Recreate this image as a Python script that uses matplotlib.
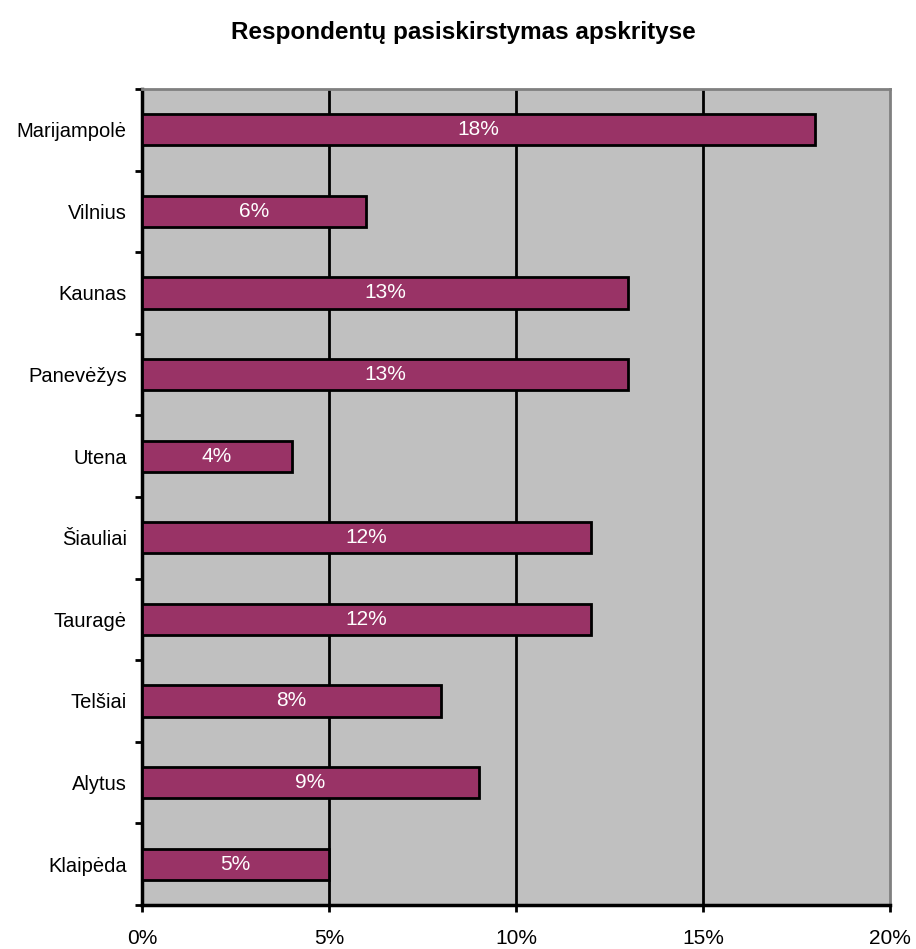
import matplotlib
matplotlib.use("Agg")
import matplotlib.pyplot as plt
import numpy as np

categories = ["Marijampolė", "Vilnius", "Kaunas", "Panevėžys", "Utena",
              "Šiauliai", "Tauragė", "Telšiai", "Alytus", "Klaipėda"]
values = [18, 6, 13, 13, 4, 12, 12, 8, 9, 5]
xticks = [0, 5, 10, 15, 20]
xticklabels = ["0%", "5%", "10%", "15%", "20%"]
title = "Respondentų pasiskirstymas apskrityse"

plt.rcParams['font.family'] = ['Liberation Sans', 'DejaVu Sans']

fig = plt.figure(figsize=(9.16, 9.49), dpi=100)
ax = fig.add_axes([142/916, 1-905/949, (890-142)/916, (905-89)/949])
ax.set_facecolor("#C0C0C0")

n = len(categories)
y = np.arange(n)
ax.barh(y, values, height=0.38, color="#993366", edgecolor="black", linewidth=2, zorder=3)
for yi, v in zip(y, values):
    ax.text(v/2, yi, f"{v}%", color="white", ha="center", va="center", fontsize=15, zorder=4)

ax.set_xlim(0, 20)
ax.set_ylim(n-0.5, -0.5)
ax.set_xticks(xticks)
ax.set_xticklabels(xticklabels, fontsize=15)
ax.set_yticks(y)
ax.set_yticklabels(categories, fontsize=14.5)
ax.tick_params(axis='y', length=0, pad=11)
ax.set_yticks(np.arange(-0.5, n, 1), minor=True)
ax.tick_params(axis='y', which='minor', length=5, width=2, direction='out', color='black')
ax.tick_params(axis='x', length=5, width=2, direction='out', pad=12)

for xv in xticks[1:-1]:
    ax.axvline(xv, color="black", linewidth=2, zorder=1)

ax.spines['left'].set_linewidth(2.5)
ax.spines['bottom'].set_linewidth(2.5)
ax.spines['top'].set_color("#808080")
ax.spines['right'].set_color("#808080")
ax.spines['top'].set_linewidth(2)
ax.spines['right'].set_linewidth(2)

fig.text(463/916, 1-32/949, title, ha="center", va="center", fontsize=17.5, fontweight="bold")

fig.savefig("out.png", dpi=100)
